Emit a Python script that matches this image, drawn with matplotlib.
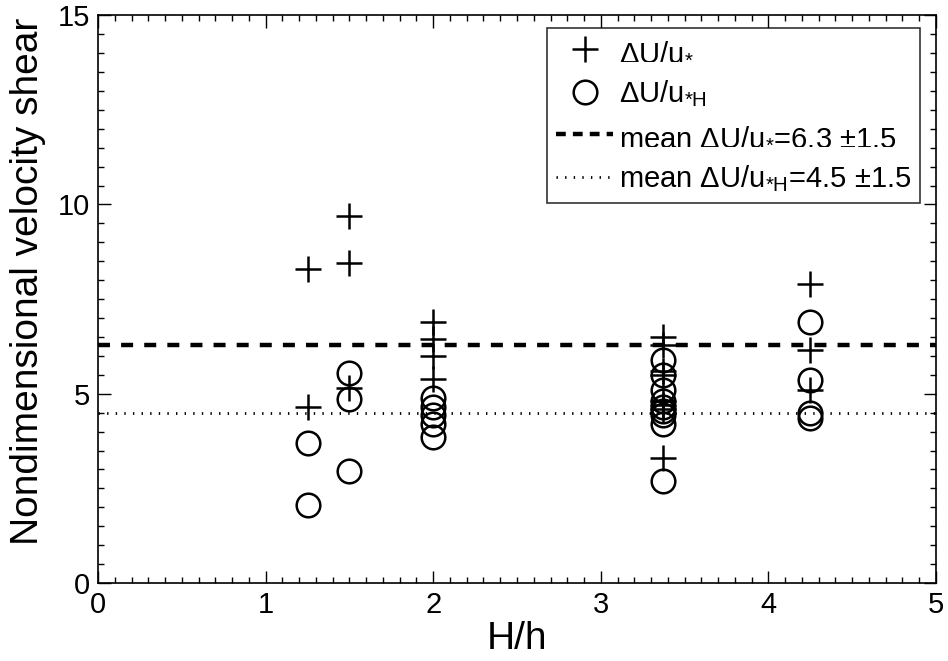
import matplotlib
matplotlib.use("Agg")
import matplotlib.pyplot as plt
from matplotlib.ticker import MultipleLocator
from matplotlib.lines import Line2D

plt.rcParams['font.family'] = ['Liberation Sans', 'DejaVu Sans']
plt.rcParams['mathtext.default'] = 'regular'

# H/h positions and shear values, u* scaling (plus) and u*H scaling (circle)
x_star = [1.25, 1.25,
          1.5, 1.5, 1.5,
          2.0, 2.0, 2.0, 2.0,
          3.37, 3.37, 3.37, 3.37, 3.37, 3.37, 3.37, 3.37,
          4.25, 4.25, 4.25]
du_star = [8.3, 4.65,
           9.7, 8.45, 5.15,
           6.9, 6.45, 6.0, 5.4,
           6.5, 6.3, 5.6, 5.5, 4.8, 4.7, 4.6, 3.3,
           7.9, 6.15, 5.1]

x_starH = [1.25, 1.25,
           1.5, 1.5, 1.5,
           2.0, 2.0, 2.0, 2.0, 2.0,
           3.37, 3.37, 3.37, 3.37, 3.37, 3.37, 3.37, 3.37, 3.37,
           4.25, 4.25, 4.25, 4.25]
du_starH = [3.7, 2.05,
            5.55, 4.85, 2.95,
            4.9, 4.65, 4.45, 4.2, 3.85,
            5.9, 5.5, 5.1, 4.8, 4.65, 4.55, 4.45, 4.2, 2.7,
            6.9, 5.35, 4.5, 4.35]

mean_star = 6.3
mean_starH = 4.5
spread = 1.5

fig = plt.figure(figsize=(9.48, 6.61), dpi=100)
ax = fig.add_axes([0.1034, 0.118, 0.8839, 0.859])

ax.plot(x_star, du_star, linestyle='none', marker='+', color='black',
        markersize=19, markeredgewidth=1.8)
ax.plot(x_starH, du_starH, linestyle='none', marker='o', color='black',
        markerfacecolor='none', markersize=17, markeredgewidth=1.8)
ax.axhline(mean_star, color='black', linewidth=3.2, dashes=(2.7, 2.5))
ax.axhline(mean_starH, color='black', linewidth=2.0, dashes=(0.5, 2.6))

ax.set_xlim(0, 5)
ax.set_ylim(0, 15)
ax.xaxis.set_major_locator(MultipleLocator(1))
ax.xaxis.set_minor_locator(MultipleLocator(0.1))
ax.yaxis.set_major_locator(MultipleLocator(5))
ax.yaxis.set_minor_locator(MultipleLocator(0.5))
ax.tick_params(which='both', direction='in', top=True, right=True,
               labelsize=21, width=1.0)
ax.tick_params(which='major', length=9, pad=6)
ax.tick_params(which='minor', length=4)
for s in ax.spines.values():
    s.set_linewidth(1.2)

ax.set_xlabel('H/h', fontsize=28, labelpad=1)
ax.set_ylabel('Nondimensional velocity shear', fontsize=28)
ax.yaxis.set_label_coords(-0.062, 0.532)

handles = [
    Line2D([], [], linestyle='none', marker='+', color='black',
           markersize=19, markeredgewidth=1.8),
    Line2D([], [], linestyle='none', marker='o', color='black',
           markerfacecolor='none', markersize=17, markeredgewidth=1.8),
    Line2D([], [], color='black', linewidth=3.2, dashes=(2.2, 1.6)),
    Line2D([], [], color='black', linewidth=2.0, dashes=(0.5, 2.6)),
]
labels = [
    r'$\Delta$U/u$_{*}$',
    r'$\Delta$U/u$_{*H}$',
    r'mean $\Delta$U/u$_{*}$=%.1f $\pm$%.1f' % (mean_star, spread),
    r'mean $\Delta$U/u$_{*H}$=%.1f $\pm$%.1f' % (mean_starH, spread),
]
leg = ax.legend(handles, labels, loc='upper right', fontsize=21,
                bbox_to_anchor=(0.981, 0.977),
                frameon=True, fancybox=False, edgecolor='black',
                handlelength=1.95, handletextpad=0.2, labelspacing=0.45,
                borderpad=0.3, borderaxespad=0.0)
leg.get_frame().set_linewidth(1.2)

fig.savefig('out.png', dpi=100)
